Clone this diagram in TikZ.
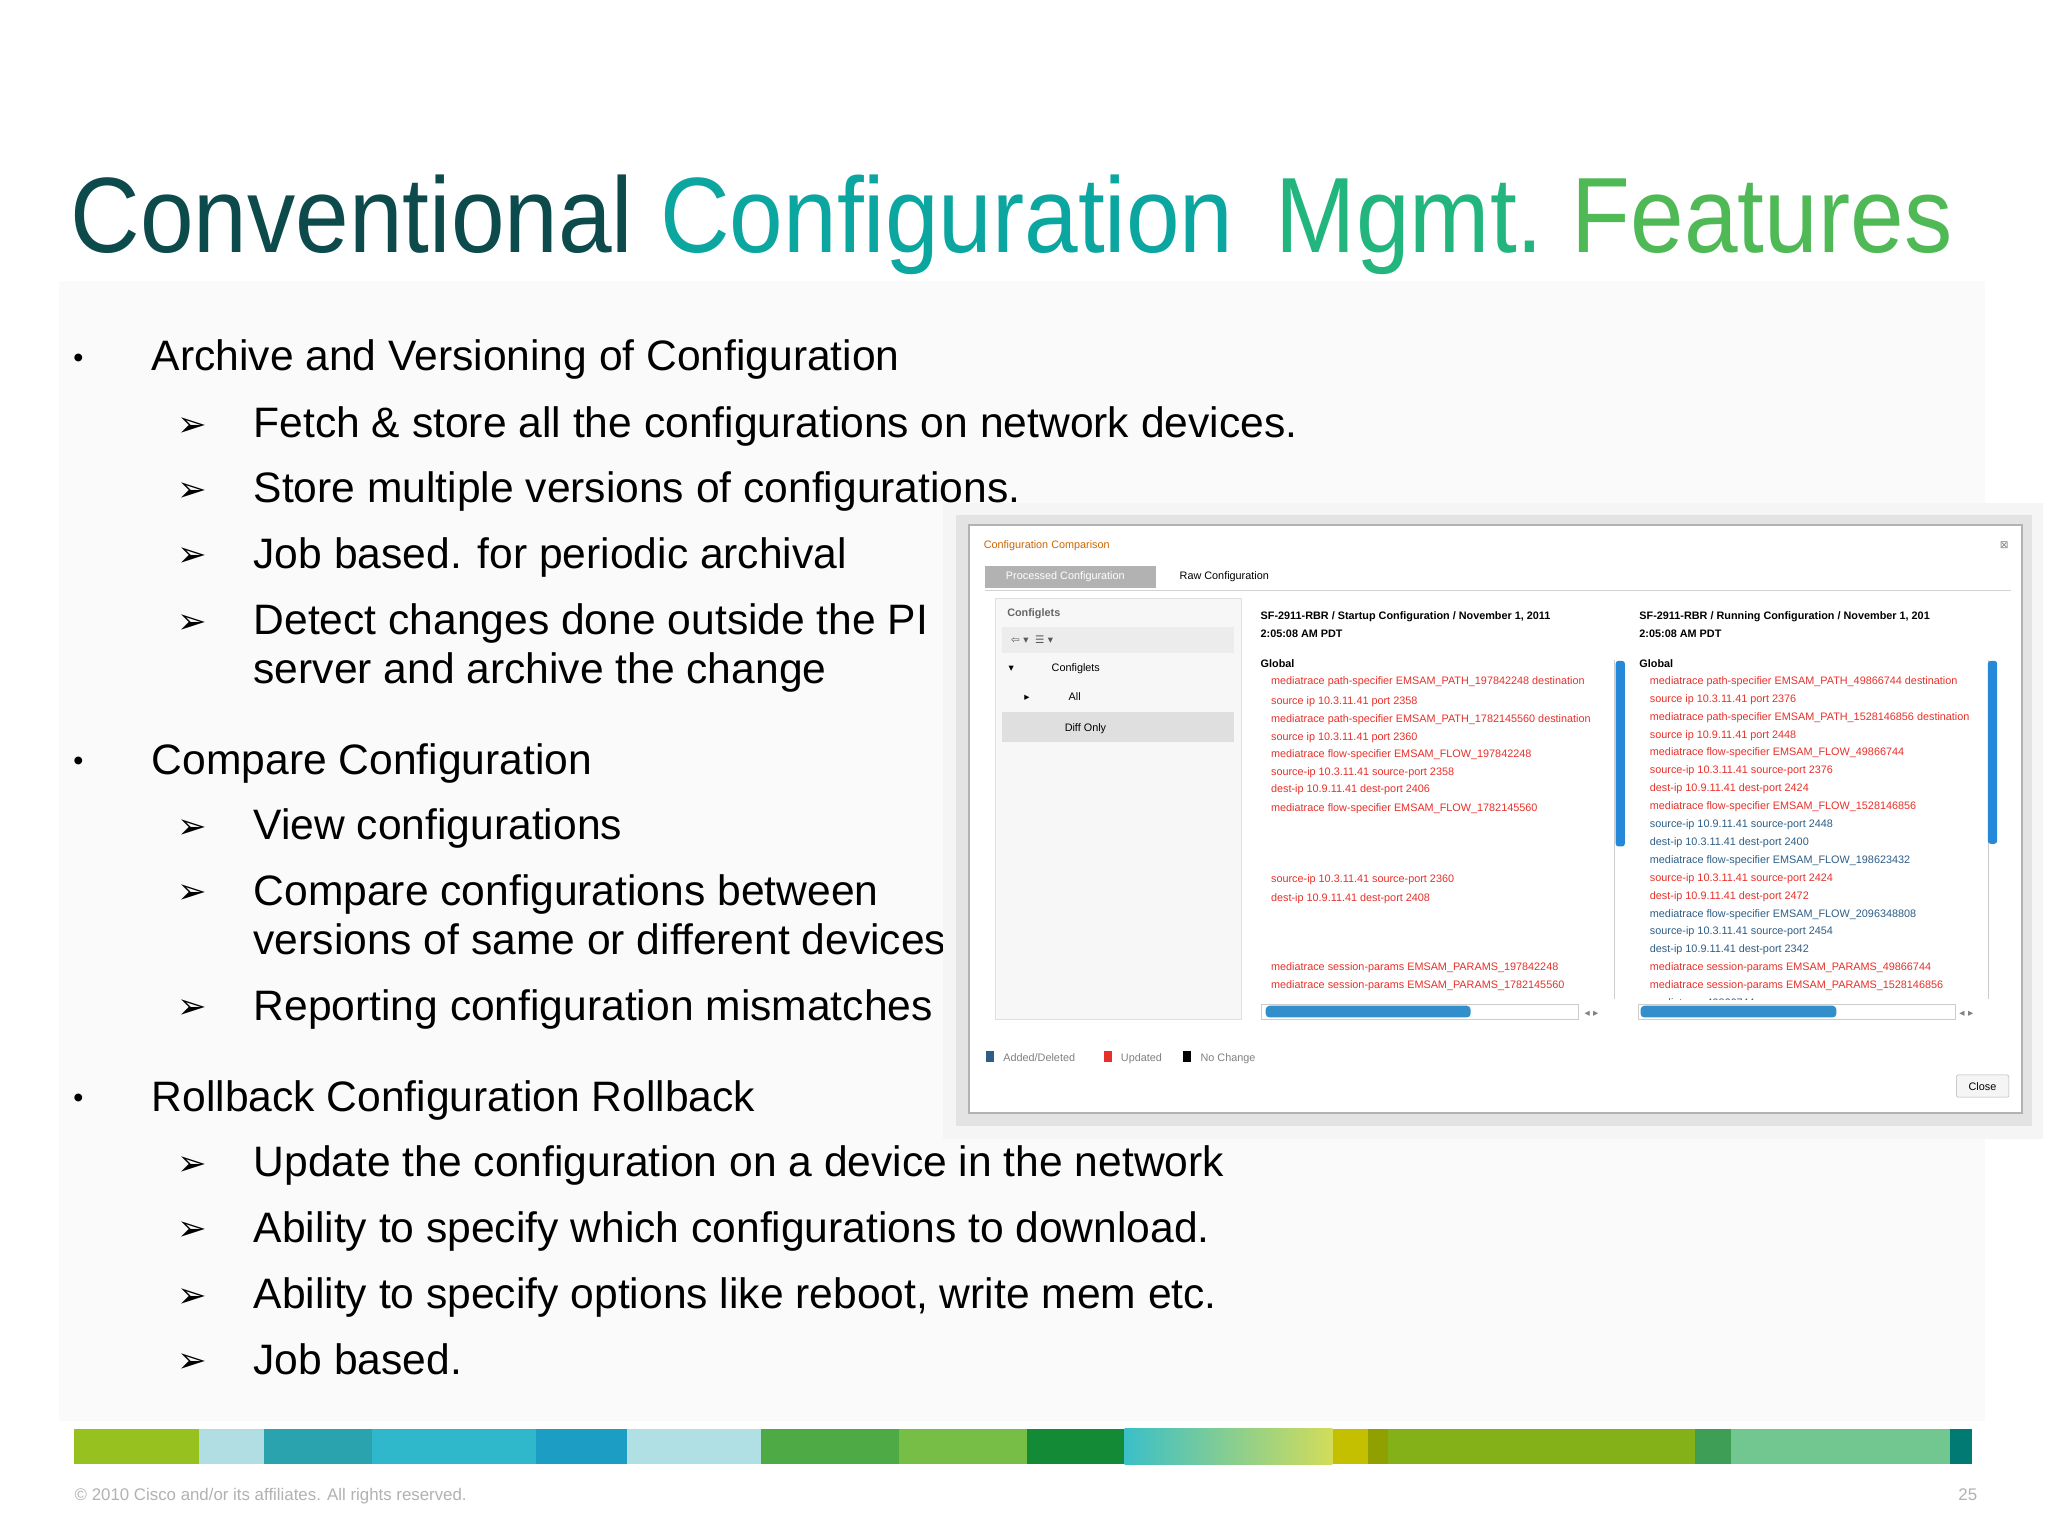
\documentclass[tikz,border=0pt]{standalone}
\usepackage{fontspec}
\setmainfont{Liberation Sans}
\newfontfamily\djvfont{DejaVu Sans}
\begin{document}
\begin{tikzpicture}[x=1pt,y=-1pt,
  lone/.style={anchor=base west,font=\fontsize{32.6}{32.6}\selectfont,text=black,inner sep=0},
  bul/.style={anchor=base west,font=\fontsize{22}{22}\selectfont,inner sep=0},
  arr/.style={anchor=base west,font=\djvfont\fontsize{27}{27}\selectfont,inner sep=0},
  tiny/.style={anchor=base west,font=\fontsize{8.3}{8.3}\selectfont,inner sep=0},
  tinyd/.style={anchor=base west,font=\djvfont\fontsize{8}{8}\selectfont,inner sep=0},
  tinyb/.style={tiny,font=\bfseries\fontsize{8.3}{8.3}\selectfont}]
\definecolor{cred}{HTML}{E8302A}
\definecolor{cblue}{HTML}{2E5E86}
\useasboundingbox (0,0) rectangle (1568,1176);
\fill[white] (0,0) rectangle (1568,1176);
\fill[gray!4] (45,215) rectangle (1520,1088);
% title
\node[anchor=base west,inner sep=0,font=\fontsize{82}{82}\selectfont] (title) at (54,193)
 {\scalebox{0.9}[1]{\textcolor[HTML]{0C4A4C}{Conventional} \textcolor[HTML]{0BA6A0}{Configuration}\hspace{36pt}\textcolor[HTML]{22B67E}{Mgmt.}\hspace{24pt}\textcolor[HTML]{4FB956}{Features}}};
% bullets
\foreach \n/\y in {b1/273,b2/582,b3/840}{\node[bul] (\n) at (56,\y+8) {•};}
\node[lone] (t1) at (116,284) {Archive and Versioning of Configuration};
\node[lone] (t2) at (116,593) {Compare Configuration};
\node[lone] (t3) at (116,851) {Rollback Configuration Rollback};
\foreach \n/\y/\t in {
 s1/324/{Fetch \& store all the configurations on network devices.},
 s2/374/{Store multiple versions of configurations.},
 s3/424/{Job based. for periodic archival},
 s4/475/{Detect changes done outside the PI},
 s6/632/{View configurations},
 s7/682/{Compare configurations between},
 s9/770/{Reporting configuration mismatches},
 s10/890/{Update the configuration on a device in the network},
 s11/940/{Ability to specify which configurations to download.},
 s12/991/{Ability to specify options like reboot, write mem etc.},
 s13/1041/{Job based.}}{
 \node[arr] (a\n) at (136,\y+10) {➢};
 \node[lone] (\n) at (194,\y+11) {\t};}
\node[lone] (s5) at (194,523) {server and archive the change};
\node[lone] (s8) at (194,731) {versions of same or different devices};
% screenshot
\fill[gray!8] (722,385) rectangle (1564,872);
\fill[gray!22] (732,394) rectangle (1556,862);
\fill[white,draw=gray!60,line width=1.5] (742,402) rectangle (1548,852);
\node[tiny,text=orange!80!black] (wt) at (753,420) {Configuration Comparison};
\node[tinyd,text=gray] (wx) at (1531,420) {⊠};
\fill[gray!60] (754,433) rectangle (885,450);
\node[tiny,text=white] (tab1) at (770,444) {Processed Configuration};
\node[tiny] (tab2) at (903,444) {Raw Configuration};
\draw[gray!35] (754,452) -- (1540,452);
\fill[gray!6,draw=gray!25] (762,458) rectangle (950,780);
\node[tinyb,text=gray!80!black] (cf) at (771,472) {Configlets};
\fill[gray!15] (767,480) rectangle (945,500);
\node[tinyd,text=gray!70!black] (tb) at (774,493) {⇦ ▾ \ ☰ ▾};
\node[tinyd] (tr1) at (772,514) {▾};
\node[tiny] (tr2) at (805,514) {Configlets};
\node[tinyd] (tr3) at (784,536) {▸};
\node[tiny] (tr4) at (818,536) {All};
\fill[gray!25] (767,545) rectangle (945,568);
\node[tiny] (tr5) at (815,560) {Diff Only};
% column headers
\node[tinyb] (h1) at (965,474) {SF-2911-RBR / Startup Configuration / November 1, 2011};
\node[tinyb] (h1b) at (965,488) {2:05:08 AM PDT};
\node[tinyb] (h2) at (1255,474) {SF-2911-RBR / Running Configuration / November 1, 201};
\node[tinyb] (h2b) at (1255,488) {2:05:08 AM PDT};
\node[tinyb] (g1) at (965,511) {Global};
\node[tinyb] (g2) at (1255,511) {Global};
\begin{scope}
\clip (960,500) rectangle (1236,765);
\foreach \i/\y/\t in {
 1/521/{mediatrace path-specifier EMSAM\_PATH\_197842248 destination},
 2/536/{source ip 10.3.11.41 port 2358},
 3/550/{mediatrace path-specifier EMSAM\_PATH\_1782145560 destination},
 4/564/{source ip 10.3.11.41 port 2360},
 5/577/{mediatrace flow-specifier EMSAM\_FLOW\_197842248},
 6/591/{source-ip 10.3.11.41 source-port 2358},
 7/604/{dest-ip 10.9.11.41 dest-port 2406},
 8/618/{mediatrace flow-specifier EMSAM\_FLOW\_1782145560},
 9/673/{source-ip 10.3.11.41 source-port 2360},
 10/687/{dest-ip 10.9.11.41 dest-port 2408},
 11/740/{mediatrace session-params EMSAM\_PARAMS\_197842248},
 12/754/{mediatrace session-params EMSAM\_PARAMS\_1782145560}}{
 \node[tiny,text=cred] (l\i) at (973,\y+3) {\t};}
\end{scope}
\begin{scope}
\clip (1250,500) rectangle (1522,765);
\foreach \i/\y/\c/\t in {
 1/521/cred/{mediatrace path-specifier EMSAM\_PATH\_49866744 destination},
 2/534.7/cred/{source ip 10.3.11.41 port 2376},
 3/548.4/cred/{mediatrace path-specifier EMSAM\_PATH\_1528146856 destination},
 4/562.1/cred/{source ip 10.9.11.41 port 2448},
 5/575.8/cred/{mediatrace flow-specifier EMSAM\_FLOW\_49866744},
 6/589.5/cred/{source-ip 10.3.11.41 source-port 2376},
 7/603.2/cred/{dest-ip 10.9.11.41 dest-port 2424},
 8/616.9/cred/{mediatrace flow-specifier EMSAM\_FLOW\_1528146856},
 9/630.6/cblue/{source-ip 10.9.11.41 source-port 2448},
 10/644.3/cblue/{dest-ip 10.3.11.41 dest-port 2400},
 11/658/cblue/{mediatrace flow-specifier EMSAM\_FLOW\_198623432},
 12/671.7/cred/{source-ip 10.3.11.41 source-port 2424},
 13/685.4/cred/{dest-ip 10.9.11.41 dest-port 2472},
 14/699.1/cblue/{mediatrace flow-specifier EMSAM\_FLOW\_2096348808},
 15/712.8/cblue/{source-ip 10.3.11.41 source-port 2454},
 16/726.5/cblue/{dest-ip 10.9.11.41 dest-port 2342},
 17/740.2/cred/{mediatrace session-params EMSAM\_PARAMS\_49866744},
 18/753.9/cred/{mediatrace session-params EMSAM\_PARAMS\_1528146856},
 19/767.6/cblue/{mediatrace 49866744}}{
 \node[tiny,text=\c] (r\i) at (1263,\y+3) {\t};}
\end{scope}
% scrollbars
\draw[gray!40] (1236,505) -- (1236,765) (1522,505) -- (1522,765);
\fill[blue!45!cyan!70!gray,rounded corners=2] (1237,506) rectangle (1244,648);
\fill[blue!45!cyan!70!gray,rounded corners=2] (1522,506) rectangle (1529,646);
\draw[gray!40] (966,769) rectangle (1208,780) (1254,769) rectangle (1497,780);
\fill[blue!40!cyan!60!gray,rounded corners=3] (969,770) rectangle (1126,779);
\fill[blue!40!cyan!60!gray,rounded corners=3] (1256,770) rectangle (1406,779);
\node[tinyd,text=gray] (sa1) at (1213,778) {◂ ▸};
\node[tinyd,text=gray] (sa2) at (1500,778) {◂ ▸};
% legend
\fill[cblue] (755,805) rectangle (761,813);
\node[tiny,text=gray] (lg1) at (768,813) {Added/Deleted};
\fill[cred] (845,805) rectangle (851,813);
\node[tiny,text=gray] (lg2) at (858,813) {Updated};
\fill[black] (906,805) rectangle (912,813);
\node[tiny,text=gray] (lg3) at (919,813) {No Change};
\draw[gray!60,fill=gray!8,rounded corners=1] (1498,823) rectangle (1538,840);
\node[tiny] (cl) at (1507,835) {Close};
% color bar
\foreach \a/\b/\c in {57/152/96C11F,152/202/B0DEE3,202/285/2BA3AF,285/410/2FB8CC,410/480/1C9DC4,480/583/B0DFE4,583/688/4DAA44,688/786/77BE46,786/861/138A36,1020/1047/C4C000,1047/1063/8FA000,1063/1298/84B118,1298/1325/3E9E55,1325/1493/72C68F,1493/1510/007A73}{
 \definecolor{tmp}{HTML}{\c}\fill[tmp] (\a,1094) rectangle (\b,1121);}
\definecolor{ga}{HTML}{3BBFC8}\definecolor{gb}{HTML}{D2DC5A}
\shade[left color=ga,right color=gb] (861,1094) rectangle (1020,1121);
% footer
\node[anchor=base west,inner sep=0,font=\fontsize{12.9}{12.9}\selectfont,text=gray!60] (ft) at (57,1149) {© 2010 Cisco and/or its affiliates. All rights reserved.};
\node[anchor=base east,inner sep=0,font=\fontsize{12.9}{12.9}\selectfont,text=gray!60] (pg) at (1514,1149) {25};
\end{tikzpicture}
\end{document}
